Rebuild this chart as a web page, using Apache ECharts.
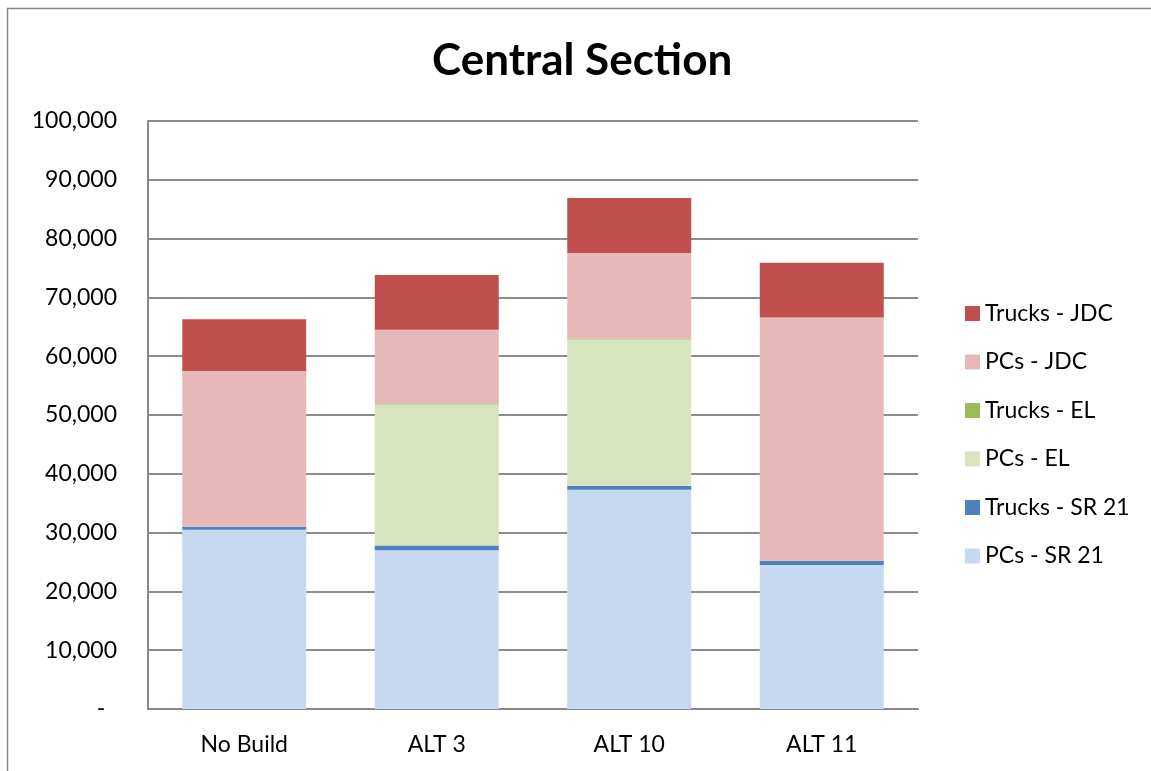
<!DOCTYPE html>
<html>
<head>
<meta charset="utf-8">
<script src="https://cdn.jsdelivr.net/npm/echarts@6/dist/echarts.min.js"></script>
<style>
  html, body { margin: 0; padding: 0; background: #fff; }
  #chart { width: 1151px; height: 771px; }
</style>
</head>
<body>
<div id="chart"></div>
<script>
// categories and series, bottom to top of each stack
const categories = ['No Build', 'ALT 3', 'ALT 10', 'ALT 11']
const pcsSR21 = [30500, 27000, 37300, 24500]
const trucksSR21 = [500, 800, 650, 700]
const pcsEL = [0, 24000, 24900, 0]
const trucksEL = [0, 150, 150, 0]
const pcsJDC = [26500, 12550, 14550, 41400]
const trucksJDC = [8800, 9300, 9350, 9300]
const yTicks = [0, 10000, 20000, 30000, 40000, 50000, 60000, 70000, 80000, 90000, 100000]

const seriesDefs = [
  { name: 'PCs - SR 21', data: pcsSR21, color: '#C6D9F1' },
  { name: 'Trucks - SR 21', data: trucksSR21, color: '#4F81BD' },
  { name: 'PCs - EL', data: pcsEL, color: '#D7E4BD' },
  { name: 'Trucks - EL', data: trucksEL, color: '#9BBB59' },
  { name: 'PCs - JDC', data: pcsJDC, color: '#E6B9B8' },
  { name: 'Trucks - JDC', data: trucksJDC, color: '#C0504D' }
]

const font = 'Lato, "Liberation Sans", sans-serif'
const myChart = echarts.init(document.getElementById('chart'))

const option = {
  animation: false,
  backgroundColor: '#fff',
  graphic: [{
    type: 'rect',
    shape: { x: 7.5, y: 8.5, width: 1160, height: 800 },
    style: { fill: 'none', stroke: '#868686', lineWidth: 1.5 },
    silent: true
  }],
  title: {
    text: 'Central Section',
    left: 427,
    top: 34,
    textStyle: { fontFamily: font, fontSize: 44, fontWeight: 'bold', color: '#000' }
  },
  legend: {
    orient: 'vertical',
    left: 960,
    top: 297,
    itemWidth: 15,
    itemHeight: 15,
    itemGap: 25.5,
    icon: 'rect',
    data: seriesDefs.map(s => s.name).reverse(),
    textStyle: { fontFamily: font, fontSize: 23, color: '#000' }
  },
  grid: { left: 148, right: 233, top: 121, bottom: 62 },
  xAxis: {
    type: 'category',
    data: categories,
    axisLine: { lineStyle: { color: '#888', width: 2 } },
    axisTick: { show: false },
    axisLabel: { fontFamily: font, fontSize: 23, color: '#000', margin: 24 }
  },
  yAxis: {
    type: 'value',
    min: yTicks[0],
    max: yTicks[yTicks.length - 1],
    interval: yTicks[1] - yTicks[0],
    axisLine: { show: true, lineStyle: { color: '#888', width: 2 } },
    axisTick: { show: false },
    splitLine: { lineStyle: { color: '#8c8c8c', width: 2 } },
    axisLabel: {
      fontFamily: font,
      fontSize: 23,
      color: '#000',
      margin: 31,
      formatter: v => v === 0 ? '-  ' : v.toLocaleString('en-US')
    }
  },
  series: seriesDefs.map(s => ({
    name: s.name,
    type: 'bar',
    stack: 'total',
    barWidth: 124,
    data: s.data,
    itemStyle: { color: s.color }
  }))
}

myChart.setOption(option)
</script>
</body>
</html>
